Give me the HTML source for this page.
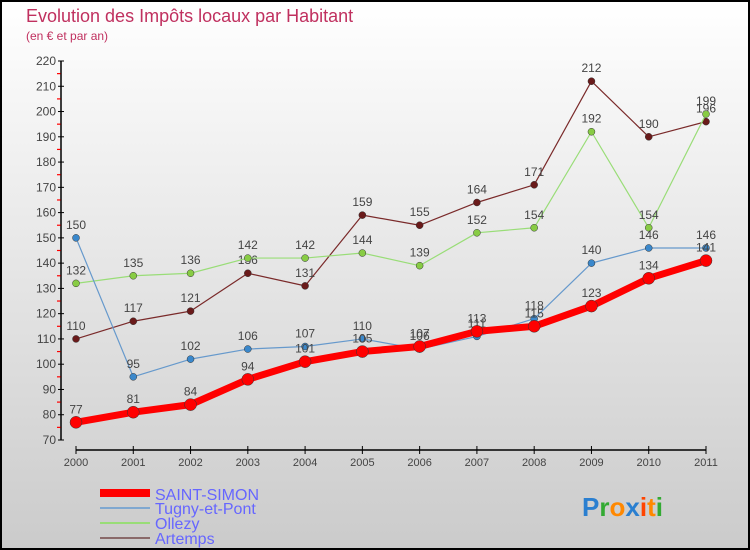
<!DOCTYPE html>
<html><head><meta charset="utf-8"><style>
body{margin:0}
#c{width:750px;height:550px;position:relative;overflow:hidden;font-family:"Liberation Sans",sans-serif}
</style></head><body>
<div id="c">
<svg id="s" width="750" height="550" xmlns="http://www.w3.org/2000/svg">
<defs><linearGradient id="bg" x1="0" y1="0" x2="0" y2="1"><stop offset="0" stop-color="#ffffff"/><stop offset="1" stop-color="#cbcbcb"/></linearGradient></defs>
<rect x="1" y="1" width="748" height="548" fill="url(#bg)" stroke="#000" stroke-width="2"/>
<text x="26" y="22" font-size="18" fill="#c0305f">Evolution des Impôts locaux par Habitant</text>
<text x="26" y="40" font-size="12" fill="#c0305f">(en € et par an)</text>
<g id="axes"></g><g id="series"></g>
<g>
<line x1="100" y1="493" x2="150" y2="493" stroke="#ff0000" stroke-width="8"/>
<text x="155" y="500" font-size="16" fill="#6666ff">SAINT-SIMON</text>
<line x1="100" y1="508" x2="150" y2="508" stroke="#80a8d0" stroke-width="2"/>
<text x="155" y="514" font-size="16" fill="#6666ff">Tugny-et-Pont</text>
<line x1="100" y1="523" x2="150" y2="523" stroke="#99dd77" stroke-width="2"/>
<text x="155" y="529" font-size="16" fill="#6666ff">Ollezy</text>
<line x1="100" y1="538" x2="150" y2="538" stroke="#8a6a6a" stroke-width="2"/>
<text x="155" y="544" font-size="16" fill="#6666ff">Artemps</text>
</g>
<text x="582" y="516" font-size="26" font-weight="bold"><tspan fill="#2a7fd0">P</tspan><tspan fill="#33aa33">r</tspan><tspan fill="#ff8800">o</tspan><tspan fill="#2a7fd0">x</tspan><tspan fill="#ff4400">i</tspan><tspan fill="#ff8800">t</tspan><tspan fill="#33aa33">i</tspan></text>
</svg></div>
<script>
const years=[2000,2001,2002,2003,2004,2005,2006,2007,2008,2009,2010,2011];
const yTicks=[70,80,90,100,110,120,130,140,150,160,170,180,190,200,210,220];
const saintSimon=[77,81,84,94,101,105,107,113,115,123,134,141];
const tugny=[150,95,102,106,107,110,106,111,118,140,146,146];
const ollezy=[132,135,136,142,142,144,139,152,154,192,154,199];
const artemps=[110,117,121,136,131,159,155,164,171,212,190,196];
const NS='http://www.w3.org/2000/svg';
const X=i=>76+i*(630/(years.length-1));
const Y=v=>440-(v-70)*(379/150);
function mk(t,a,p){const e=document.createElementNS(NS,t);for(const k in a)e.setAttribute(k,a[k]);p.appendChild(e);return e;}
const ax=document.getElementById('axes');
const yl=mk('line',{x1:61,y1:Y(220),x2:61,y2:Y(70),stroke:'#000','stroke-width':1.5},ax);


yTicks.forEach(v=>{
 mk('line',{x1:58,y1:Y(v),x2:64,y2:Y(v),stroke:'#000'},ax);
 if(v<220)mk('line',{x1:57,y1:Y(v+5),x2:60.5,y2:Y(v+5),stroke:'#f00','stroke-width':1.2},ax);
 const t=mk('text',{x:56,y:Y(v)+4,'font-size':12,fill:'#444','text-anchor':'end'},ax);t.textContent=v;
 
 
});
const xl=mk('line',{x1:76,y1:450,x2:706,y2:450,stroke:'#000','stroke-width':1.5},ax);


years.forEach((y,i)=>{
 mk('line',{x1:X(i),y1:446,x2:X(i),y2:454,stroke:'#000'},ax);
 const t=mk('text',{x:X(i),y:466,'font-size':11,fill:'#444','text-anchor':'middle'},ax);t.textContent=y;
 
 
});
const sg=document.getElementById('series');
function draw(data,line,dot,w,r,name){
 const g=mk('g',{},sg);
 
 
 mk('polyline',{points:data.map((v,i)=>X(i)+','+Y(v)).join(' '),fill:'none',stroke:line,'stroke-width':w,'stroke-linejoin':'round'},g);
 data.forEach((v,i)=>{
  const c=mk('circle',{cx:X(i),cy:Y(v),r:r,fill:dot,stroke:'#333','stroke-width':0.5},g);
  
  
  const t=mk('text',{x:X(i),y:Y(v)-9,'font-size':12,fill:'#444','text-anchor':'middle'},g);t.textContent=v;
  
  
 });
}
draw(artemps,'#7a2a2a','#6a1a1a',1.2,3.5,'artemps');
draw(ollezy,'#99dd77','#88cc44',1.2,3.5,'ollezy');
draw(tugny,'#6699cc','#3a88cc',1.2,3.5,'tugny');
draw(saintSimon,'#ff0000','#ff0000',7,6,'saint-simon');
</script>
</body></html>
